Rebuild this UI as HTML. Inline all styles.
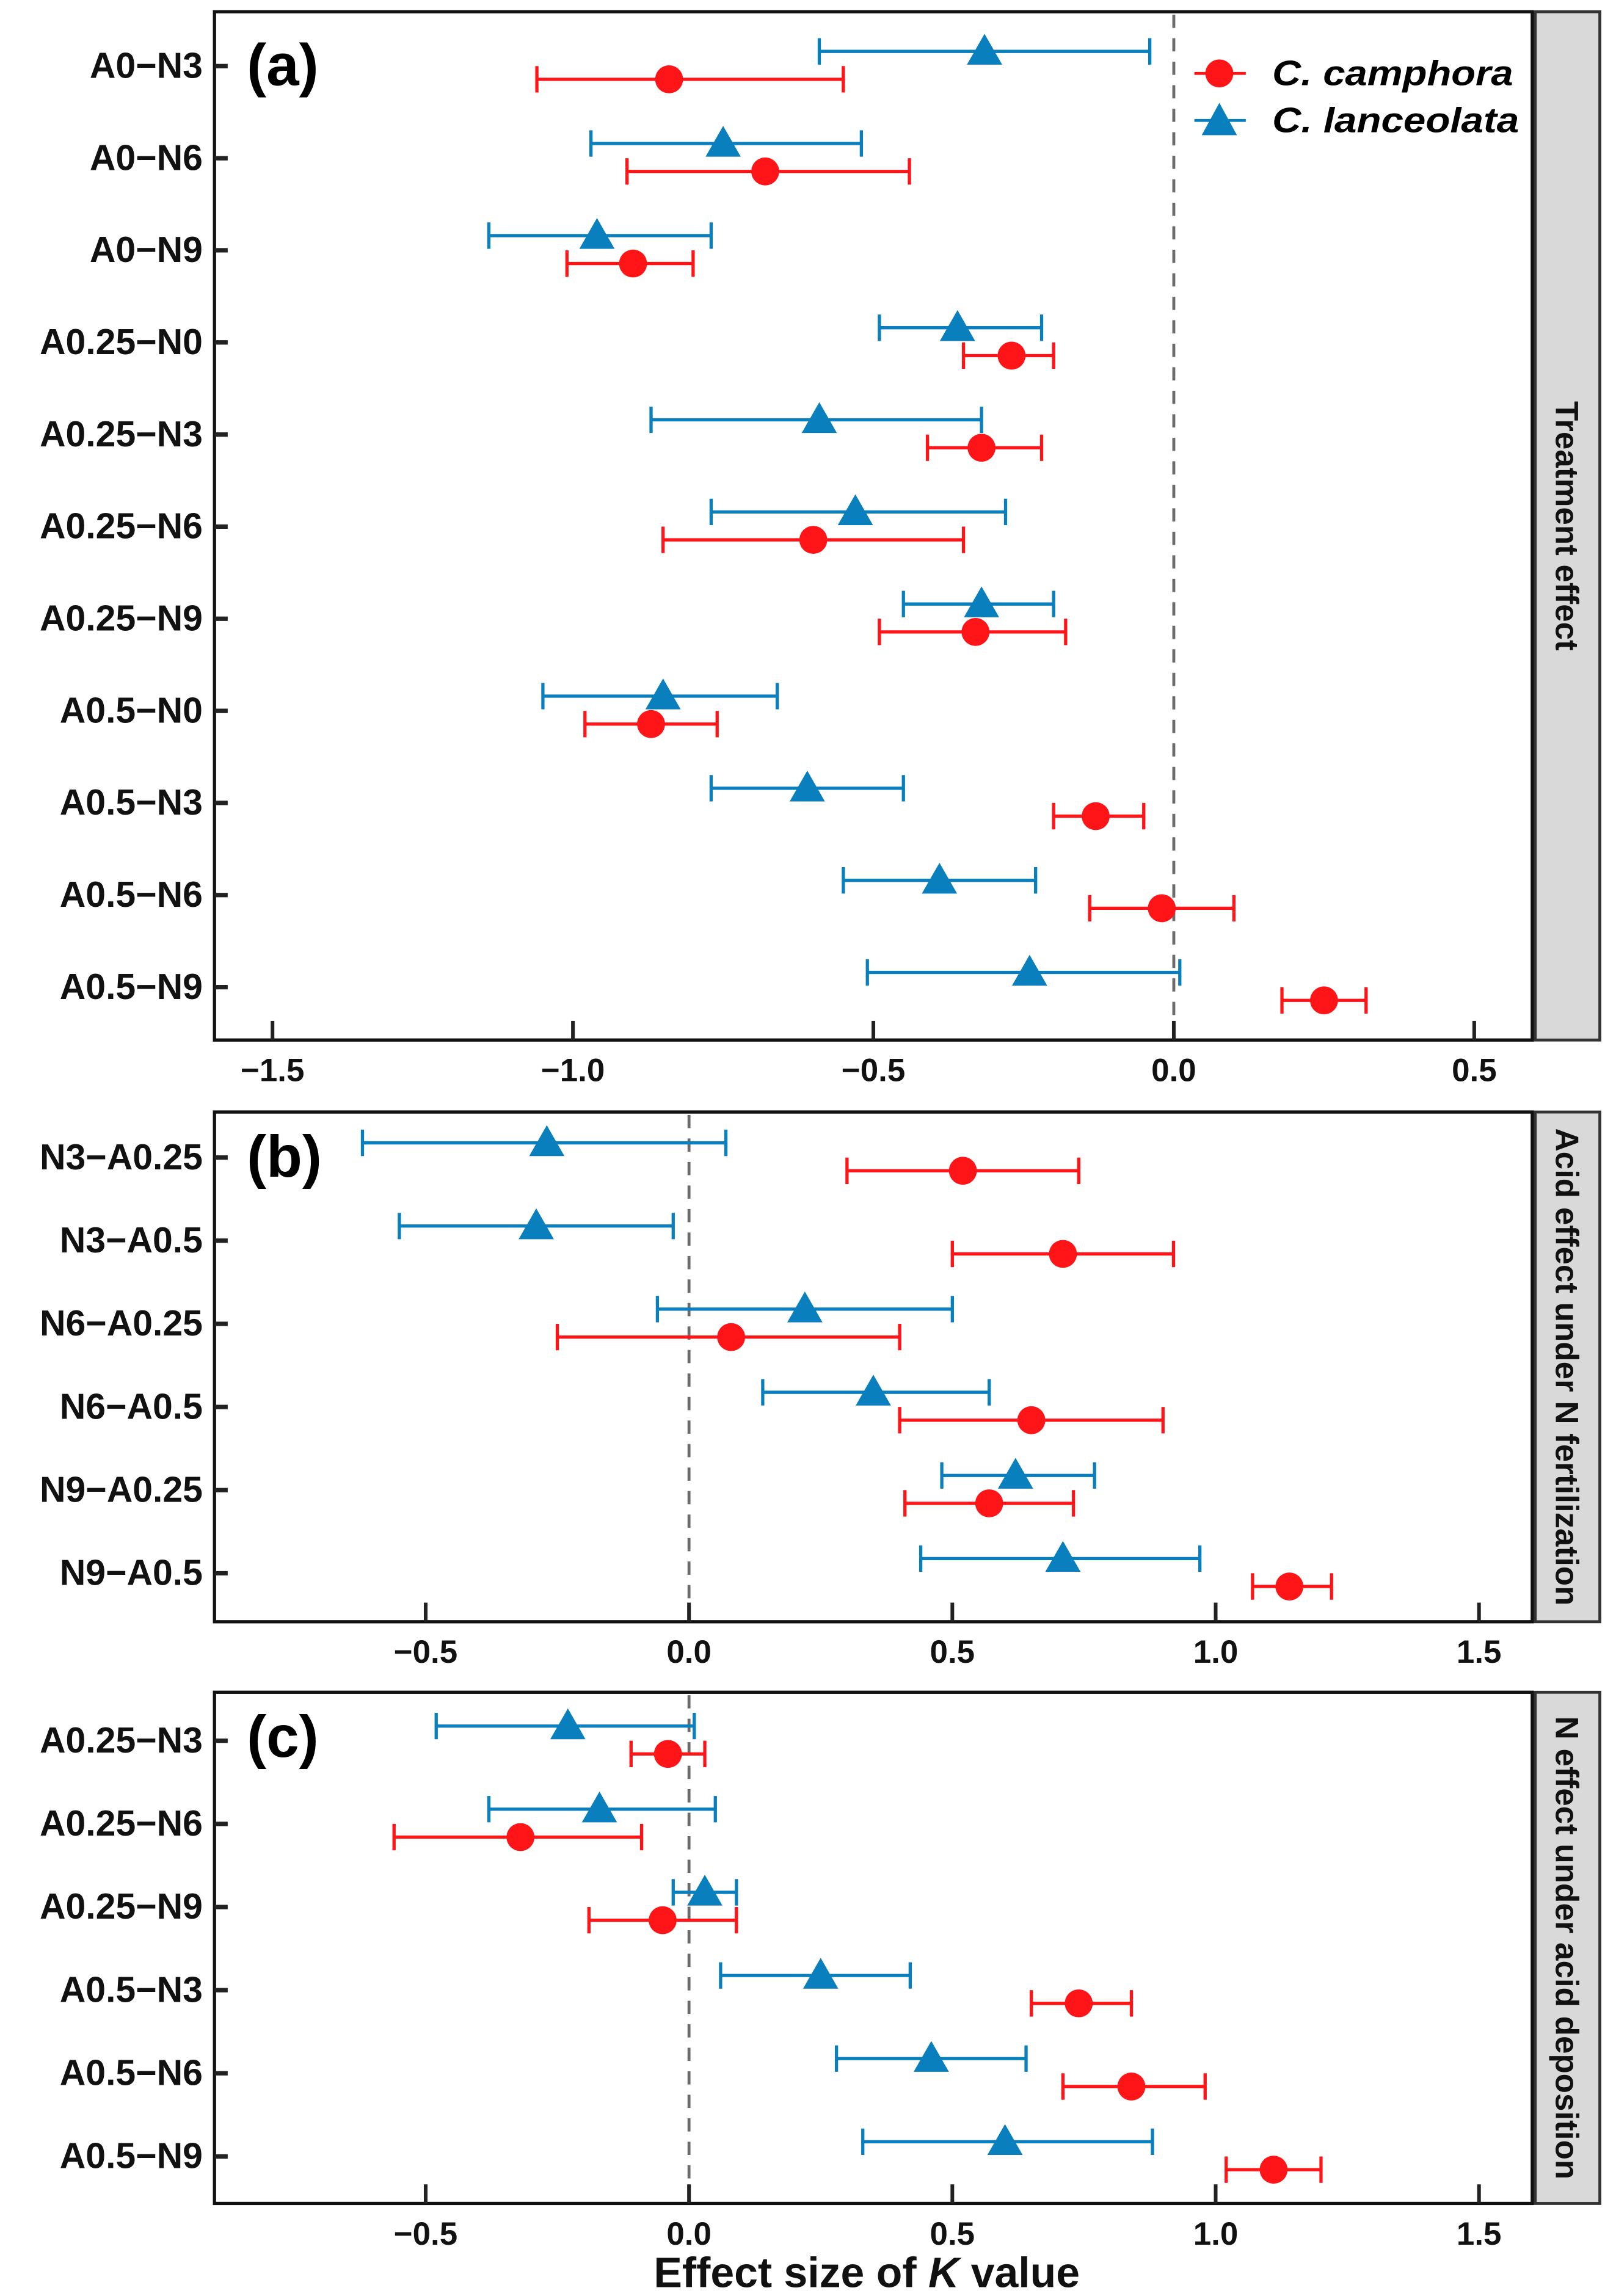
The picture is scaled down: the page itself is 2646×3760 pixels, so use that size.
<!DOCTYPE html>
<html><head><meta charset="utf-8"><style>
html,body{margin:0;padding:0;background:#fff;}
svg{display:block;}
text{font-family:"Liberation Sans",Arial,sans-serif;font-weight:bold;}
</style></head>
<body>
<svg id="chart" width="2646" height="3760" viewBox="0 0 1100 1563" preserveAspectRatio="none" xmlns="http://www.w3.org/2000/svg">
<g id="root"></g>
</svg>
<script>
// ---------- Panel (a) data ----------
const catsA = ["A0\u2212N3","A0\u2212N6","A0\u2212N9","A0.25\u2212N0","A0.25\u2212N3","A0.25\u2212N6","A0.25\u2212N9","A0.5\u2212N0","A0.5\u2212N3","A0.5\u2212N6","A0.5\u2212N9"];
const blueMeanA = [-0.315,-0.75,-0.96,-0.36,-0.59,-0.53,-0.32,-0.85,-0.61,-0.39,-0.24];
const blueLoA   = [-0.59,-0.97,-1.14,-0.49,-0.87,-0.77,-0.45,-1.05,-0.77,-0.55,-0.51];
const blueHiA   = [-0.04,-0.52,-0.77,-0.22,-0.32,-0.28,-0.20,-0.66,-0.45,-0.23,0.01];
const redMeanA  = [-0.84,-0.68,-0.90,-0.27,-0.32,-0.60,-0.33,-0.87,-0.13,-0.02,0.25];
const redLoA    = [-1.06,-0.91,-1.01,-0.35,-0.41,-0.85,-0.49,-0.98,-0.20,-0.14,0.18];
const redHiA    = [-0.55,-0.44,-0.80,-0.20,-0.22,-0.35,-0.18,-0.76,-0.05,0.10,0.32];
const ticksA = [-1.5,-1.0,-0.5,0.0,0.5];
const tickLabelsA = ["\u22121.5","\u22121.0","\u22120.5","0.0","0.5"];
// ---------- Panel (b) data ----------
const catsB = ["N3\u2212A0.25","N3\u2212A0.5","N6\u2212A0.25","N6\u2212A0.5","N9\u2212A0.25","N9\u2212A0.5"];
const blueMeanB = [-0.27,-0.29,0.22,0.35,0.62,0.71];
const blueLoB   = [-0.62,-0.55,-0.06,0.14,0.48,0.44];
const blueHiB   = [0.07,-0.03,0.50,0.57,0.77,0.97];
const redMeanB  = [0.52,0.71,0.08,0.65,0.57,1.14];
const redLoB    = [0.30,0.50,-0.25,0.40,0.41,1.07];
const redHiB    = [0.74,0.92,0.40,0.90,0.73,1.22];
// ---------- Panel (c) data ----------
const catsC = ["A0.25\u2212N3","A0.25\u2212N6","A0.25\u2212N9","A0.5\u2212N3","A0.5\u2212N6","A0.5\u2212N9"];
const blueMeanC = [-0.23,-0.17,0.03,0.25,0.46,0.60];
const blueLoC   = [-0.48,-0.38,-0.03,0.06,0.28,0.33];
const blueHiC   = [0.01,0.05,0.09,0.42,0.64,0.88];
const redMeanC  = [-0.04,-0.32,-0.05,0.74,0.84,1.11];
const redLoC    = [-0.11,-0.56,-0.19,0.65,0.71,1.02];
const redHiC    = [0.03,-0.09,0.09,0.84,0.98,1.20];
const ticksBC = [-0.5,0.0,0.5,1.0,1.5];
const tickLabelsBC = ["\u22120.5","0.0","0.5","1.0","1.5"];

const NS="http://www.w3.org/2000/svg";
const root=document.getElementById('root');
const RED="#ff1418", BLUE="#0a7fbd";
function mk(tag,attrs,parent){const e=document.createElementNS(NS,tag);for(const k in attrs)e.setAttribute(k,attrs[k]);(parent||root).appendChild(e);return e;}

function panel(cfg){
  const g=mk('g',{});
  
  
  const L=146,R=1043,T=cfg.top,B=cfg.bottom;
  const xs=v=>cfg.x0+v*cfg.k;
  const ys=i=>cfg.y0+i*cfg.dy;
  mk('rect',{x:L,y:T,width:R-L,height:B-T,fill:'#fff',stroke:'#111','stroke-width':2.2},g);
  const s=mk('rect',{x:1045,y:T,width:44,height:B-T,fill:'#d9d9d9',stroke:'#333','stroke-width':2},g);
  
  
  const st=mk('text',{x:0,y:0,'font-size':22,'text-anchor':'middle',transform:`translate(1059,${(T+B)/2}) rotate(90)`,fill:'#111'},g);
  st.textContent=cfg.strip;
  
  
  const z=mk('line',{x1:xs(0),x2:xs(0),y1:T+2,y2:B-2,stroke:'#6b6b6b','stroke-width':2,'stroke-dasharray':'9,7'},g);
  
  
  cfg.ticks.forEach((t,i)=>{
    mk('line',{x1:xs(t),x2:xs(t),y1:B,y2:B-13,stroke:'#222','stroke-width':2.5},g);
    const tl=mk('text',{x:xs(t),y:B+28,'font-size':22,'text-anchor':'middle',fill:'#111'},g);
    tl.textContent=cfg.tickLabels[i];
    
    
  });
  cfg.cats.forEach((c,i)=>{
    mk('line',{x1:L,x2:L+9,y1:ys(i),y2:ys(i),stroke:'#222','stroke-width':3},g);
    const yl=mk('text',{x:L-8,y:ys(i)+8,'font-size':24.5,'text-anchor':'end',fill:'#111'},g);
    yl.textContent=c;
    
    
  });
  const series=[
    {mean:cfg.bm,lo:cfg.bl,hi:cfg.bh,col:BLUE,off:-10,shape:'tri',nm:'c-lanceolata'},
    {mean:cfg.rm,lo:cfg.rl,hi:cfg.rh,col:RED,off:9,shape:'circ',nm:'c-camphora'}];
  series.forEach(sr=>{
    sr.mean.forEach((m,i)=>{
      const y=ys(i)+sr.off;
      const eg=mk('g',{},g);
      
      
      mk('line',{x1:xs(sr.lo[i]),x2:xs(sr.hi[i]),y1:y,y2:y,stroke:sr.col,'stroke-width':2.2},eg);
      mk('line',{x1:xs(sr.lo[i]),x2:xs(sr.lo[i]),y1:y-9,y2:y+9,stroke:sr.col,'stroke-width':2.2},eg);
      mk('line',{x1:xs(sr.hi[i]),x2:xs(sr.hi[i]),y1:y-9,y2:y+9,stroke:sr.col,'stroke-width':2.2},eg);
      const cx=xs(m);
      if(sr.shape==='circ') mk('ellipse',{cx:cx,cy:y,rx:9.5,ry:9.5,fill:sr.col},eg);
      else mk('polygon',{points:`${cx-12},${y+9} ${cx+12},${y+9} ${cx},${y-12}`,fill:sr.col},eg);
    });
  });
  const pl=mk('text',{x:168,y:T+cfg.labOff,'font-size':40,fill:'#000'},g);
  pl.textContent=cfg.label;
  
  
}

panel({name:'panel-a',top:8,bottom:708,x0:799,k:409,y0:45,dy:62.7,cats:catsA,ticks:ticksA,tickLabels:tickLabelsA,
  bm:blueMeanA,bl:blueLoA,bh:blueHiA,rm:redMeanA,rl:redLoA,rh:redHiA,strip:'Treatment effect',label:'(a)',labOff:50});
panel({name:'panel-b',top:757,bottom:1104,x0:469,k:358.5,y0:788,dy:56.6,cats:catsB,ticks:ticksBC,tickLabels:tickLabelsBC,
  bm:blueMeanB,bl:blueLoB,bh:blueHiB,rm:redMeanB,rl:redLoB,rh:redHiB,strip:'Acid effect under N fertilization',label:'(b)',labOff:44});
panel({name:'panel-c',top:1152,bottom:1500,x0:469,k:358.5,y0:1185,dy:56.6,cats:catsC,ticks:ticksBC,tickLabels:tickLabelsBC,
  bm:blueMeanC,bl:blueLoC,bh:blueHiC,rm:redMeanC,rl:redLoC,rh:redHiC,strip:'N effect under acid deposition',label:'(c)',labOff:44});

const lg=mk('g',{});


const l1=mk('g',{},lg);


mk('line',{x1:813,x2:848,y1:50,y2:50,stroke:RED,'stroke-width':2},l1);
mk('ellipse',{cx:830,cy:50,rx:9.5,ry:9.5,fill:RED},l1);
const t1=mk('text',{x:866,y:58,'font-size':24,'font-style':'italic',fill:'#000',textLength:164,lengthAdjust:'spacingAndGlyphs'},l1);t1.textContent='C. camphora';
const l2=mk('g',{},lg);


mk('line',{x1:813,x2:848,y1:82,y2:82,stroke:BLUE,'stroke-width':2},l2);
mk('polygon',{points:'818,92 842,92 830,70',fill:BLUE},l2);
const t2=mk('text',{x:866,y:90,'font-size':24,'font-style':'italic',fill:'#000',textLength:168,lengthAdjust:'spacingAndGlyphs'},l2);t2.textContent='C. lanceolata';

const xt=mk('text',{x:590,y:1557,'font-size':29,'text-anchor':'middle',fill:'#111'});


xt.innerHTML='Effect size of <tspan font-style="italic">K</tspan> value';
</script>
</body></html>
